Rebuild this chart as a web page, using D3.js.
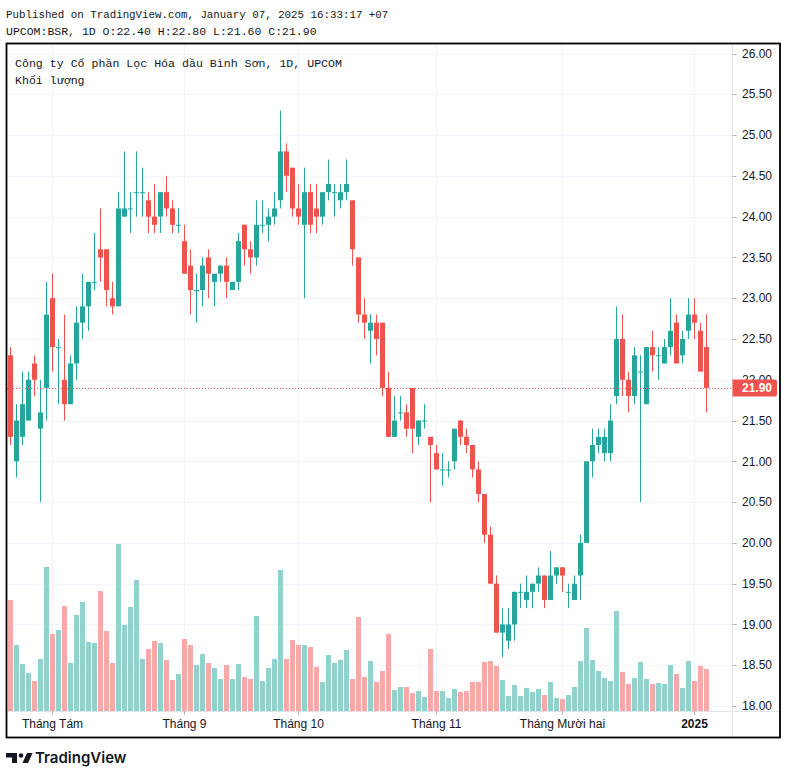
<!DOCTYPE html>
<html><head><meta charset="utf-8">
<script src="https://cdn.jsdelivr.net/npm/d3@7/dist/d3.min.js"></script>
<style>html,body{margin:0;padding:0;background:#fff;}svg{display:block;}</style>
</head><body>
<svg id="chart" width="789" height="776"></svg>
<script>
// ---------- DATA ----------
const openP  = [22.3,21.0,21.3,21.5,22.2,21.4,21.9,23.0,22.4,22.0,21.7,22.2,22.7,22.9,23.2,23.6,23.6,23.0,22.9,24.0,24.1,24.3,24.3,24.2,24.0,24.0,24.3,24.1,23.9,23.7,23.4,23.1,23.1,23.5,23.2,23.3,23.4,23.1,23.2,23.9,23.6,23.5,23.9,23.9,24.0,24.2,24.8,24.6,24.1,23.9,24.3,24.1,24.0,24.3,24.3,24.2,24.3,24.2,23.5,22.8,22.6,22.7,22.7,21.9,21.3,21.6,21.6,21.9,21.3,21.5,21.3,21.1,20.9,20.9,21.0,21.5,21.3,21.2,20.9,20.6,20.1,19.5,18.9,18.8,19.0,19.4,19.3,19.4,19.5,19.6,19.3,19.6,19.7,19.4,19.3,19.6,20.0,21.0,21.2,21.1,21.1,21.8,22.5,22.0,21.8,22.1,21.7,22.4,22.3,22.2,22.4,22.7,22.3,22.6,22.8,22.6,22.4];
const highP  = [22.4,21.7,22.1,22.1,22.3,22.0,23.2,23.3,22.5,22.8,22.3,22.9,23.3,23.2,23.8,24.1,23.6,23.2,24.3,24.8,24.3,24.8,24.6,24.3,24.4,24.3,24.5,24.2,24.1,23.9,23.6,23.3,23.5,23.6,23.3,23.4,23.5,23.2,23.8,23.9,23.7,24.2,24.2,24.1,24.3,25.3,24.9,24.6,24.4,24.6,24.4,24.4,24.3,24.7,24.4,24.4,24.7,24.2,23.5,23.0,22.8,22.8,22.7,22.1,21.8,21.8,21.7,21.9,21.5,21.7,21.3,21.2,21.1,21.0,21.4,21.5,21.4,21.2,21.0,20.6,20.2,19.6,19.2,19.2,19.4,19.5,19.6,19.5,19.7,19.6,19.9,19.7,19.7,19.5,19.6,20.1,21.0,21.4,21.4,21.4,21.7,22.9,22.8,22.1,22.4,22.3,22.4,22.6,22.4,22.5,23.0,22.8,22.6,23.0,23.0,22.7,22.8];
const lowP   = [21.2,20.8,21.2,21.5,21.8,20.5,21.5,22.1,21.7,21.5,21.7,22.0,22.5,22.6,23.1,23.2,22.9,22.8,22.9,24.0,23.8,24.0,24.0,23.8,23.8,23.8,24.0,23.8,23.8,23.3,22.8,22.7,22.9,23.0,22.9,23.2,23.0,23.1,23.1,23.4,23.3,23.4,23.8,23.7,23.9,24.1,24.3,24.0,23.9,23.0,23.8,23.8,23.9,24.2,24.0,24.1,24.2,23.4,22.7,22.5,22.2,22.3,21.8,21.3,21.3,21.5,21.3,21.1,21.2,21.4,20.5,20.9,20.7,20.8,20.9,21.2,21.1,20.8,20.5,20.0,19.5,18.9,18.6,18.7,18.8,19.2,19.2,19.2,19.4,19.2,19.3,19.5,19.4,19.2,19.3,19.3,20.0,20.8,21.1,21.0,21.0,21.7,21.8,21.6,21.7,20.5,21.7,22.1,22.0,22.2,22.3,22.2,22.2,22.5,22.5,22.1,21.6];
const closeP = [21.3,21.5,21.7,22.0,22.0,21.6,22.8,22.4,22.4,21.7,22.2,22.7,22.9,23.2,23.2,23.5,23.1,22.9,24.1,24.1,24.1,24.3,24.3,24.0,23.9,24.3,24.1,23.9,23.9,23.3,23.1,23.1,23.4,23.3,23.3,23.4,23.2,23.2,23.7,23.6,23.5,23.9,23.9,24.0,24.1,24.8,24.5,24.1,24.0,24.3,23.9,24.0,24.3,24.4,24.3,24.3,24.4,23.6,22.8,22.7,22.7,22.5,21.9,21.3,21.5,21.6,21.4,21.4,21.5,21.5,21.2,20.9,20.9,20.9,21.4,21.3,21.2,20.9,20.6,20.1,19.5,18.9,19.0,19.0,19.4,19.4,19.4,19.5,19.6,19.3,19.6,19.7,19.6,19.4,19.5,20.0,21.0,21.2,21.3,21.3,21.5,22.5,22.0,21.8,22.3,22.1,22.4,22.3,22.3,22.4,22.6,22.2,22.5,22.8,22.7,22.1,21.9];
// volume, millions of shares
const volume = [11.1,6.6,4.7,3.8,3.0,5.2,14.4,7.7,8.1,10.5,4.8,9.6,10.9,6.9,6.8,12.0,8.0,4.8,16.7,8.6,10.4,13.1,5.2,6.2,7.0,6.8,5.1,3.1,3.7,7.2,6.6,4.6,5.7,4.8,4.3,3.2,4.6,3.2,4.7,3.4,3.2,9.5,3.0,4.3,5.2,14.1,5.2,7.1,6.6,6.6,6.4,4.4,2.9,5.6,4.8,5.1,6.1,3.2,9.4,3.4,5.0,2.9,4.0,7.7,2.1,2.4,2.4,1.8,2.0,1.4,6.2,2.0,2.0,1.3,2.2,1.9,2.0,2.9,2.9,4.9,5.0,4.5,3.1,1.5,2.6,1.5,2.3,1.9,2.2,1.6,2.9,1.3,1.2,1.6,2.4,5.0,8.3,5.1,4.0,3.3,3.0,10.0,3.9,2.7,3.3,4.9,3.2,2.7,2.8,2.7,4.6,3.7,2.3,5.0,3.0,4.5,4.2];
const priceTicks = [18,18.5,19,19.5,20,20.5,21,21.5,22,22.5,23,23.5,24,24.5,25,25.5,26];
const monthLabels = ["Tháng Tám","Tháng 9","Tháng 10","Tháng 11","Tháng Mười hai","2025"];
const monthStartBar = [7,29,48,71,92,114];
const lastPrice = 21.90;

// ---------- LAYOUT ----------
const UP = "#26a69a", DOWN = "#ef5350";
const UPV = "#92d2cc", DOWNV = "#f7a9a7";
const GRID = "#f0f3fa", TXT = "#131722";
const MONO = "Liberation Mono, DejaVu Sans Mono, monospace";
const L = 7, R = 732.5, T = 44, B = 711;
const n = openP.length;
const svg = d3.select("#chart");

const x = d3.scaleLinear().domain([0, n - 1]).range([10.5, 10.5 + (n - 1) * 6]);
const y = d3.scaleLinear().domain([18, 26]).range([706, 53.5]);
const yv = d3.scaleLinear().domain([0, d3.max(volume)]).range([B, B - 167]);
const crisp = v => Math.round(v) + 0.5;

// header
svg.append("text").attr("x", 6).attr("y", 18).attr("font-family", MONO)
  .attr("font-size", 10.8).attr("fill", TXT).text("Published on TradingView.com, January 07, 2025 16:33:17 +07");
svg.append("text").attr("x", 6).attr("y", 35).attr("font-family", MONO)
  .attr("font-size", 11.5).attr("fill", TXT).text("UPCOM:BSR, 1D O:22.40 H:22.80 L:21.60 C:21.90");

const plot = svg.append("g");
plot.append("defs").append("clipPath").attr("id", "clip")
  .append("rect").attr("x", L).attr("y", T).attr("width", R - L).attr("height", B - T);

// horizontal grid
plot.append("g").selectAll("line").data(priceTicks).join("line")
  .attr("x1", L).attr("x2", R).attr("y1", d => crisp(y(d))).attr("y2", d => crisp(y(d)))
  .attr("stroke", GRID).attr("stroke-width", 1);
// vertical grid
plot.append("g").selectAll("line").data(monthStartBar).join("line")
  .attr("x1", d => x(d)).attr("x2", d => x(d)).attr("y1", T).attr("y2", B)
  .attr("stroke", GRID).attr("stroke-width", 1);

const data = d3.range(n).map(i => ({i, o: openP[i], h: highP[i], l: lowP[i], c: closeP[i], v: volume[i], up: closeP[i] >= openP[i]}));

const g = plot.append("g").attr("clip-path", "url(#clip)");
// volume
g.append("g").selectAll("rect").data(data).join("rect")
  .attr("x", d => x(d.i) - 2.5).attr("width", 5)
  .attr("y", d => yv(d.v)).attr("height", d => B - yv(d.v))
  .attr("fill", d => d.up ? UPV : DOWNV);
// wicks
g.append("g").selectAll("line").data(data).join("line")
  .attr("x1", d => x(d.i)).attr("x2", d => x(d.i))
  .attr("y1", d => y(d.h)).attr("y2", d => y(d.l))
  .attr("stroke", d => d.up ? UP : DOWN).attr("stroke-width", 1);
// bodies
g.append("g").selectAll("rect").data(data).join("rect")
  .attr("x", d => x(d.i) - 2.5).attr("width", 5)
  .attr("y", d => Math.min(y(d.o), y(d.c)))
  .attr("height", d => Math.max(1, Math.abs(y(d.o) - y(d.c))))
  .attr("fill", d => d.up ? UP : DOWN);

// last price dotted line
plot.append("line").attr("x1", L).attr("x2", R)
  .attr("y1", crisp(y(lastPrice))).attr("y2", crisp(y(lastPrice)))
  .attr("stroke", DOWN).attr("stroke-width", 1).attr("stroke-dasharray", "1,2");

// legend
svg.append("text").attr("x", 15).attr("y", 67).attr("font-family", MONO)
  .attr("font-size", 11.6).attr("fill", TXT).text("Công ty Cổ phần Lọc Hóa dầu Bình Sơn, 1D, UPCOM".normalize("NFC"));
svg.append("text").attr("x", 15).attr("y", 84).attr("font-family", MONO)
  .attr("font-size", 11.6).attr("fill", TXT).text("Khối lượng".normalize("NFC"));

// axes separators
svg.append("line").attr("x1", R).attr("x2", R).attr("y1", T).attr("y2", 737).attr("stroke", "#e0e3eb");
svg.append("line").attr("x1", L).attr("x2", 780).attr("y1", B + 0.5).attr("y2", B + 0.5).attr("stroke", "#e0e3eb");

// price axis
const pa = svg.append("g");
pa.selectAll("line").data(priceTicks).join("line")
  .attr("x1", R).attr("x2", R + 4).attr("y1", d => crisp(y(d))).attr("y2", d => crisp(y(d)))
  .attr("stroke", "#b2b5be");
pa.selectAll("text").data(priceTicks).join("text")
  .attr("x", 742).attr("y", d => y(d)).attr("dy", "0.35em")
  .attr("font-family", "Liberation Sans, Arial, sans-serif").attr("font-size", 12).attr("fill", TXT)
  .text(d => d.toFixed(2));

// last price label
const ly = y(lastPrice);
svg.append("path")
  .attr("d", `M${R},${ly - 8.5} H775 a2,2 0 0 1 2,2 V${ly + 6.5} a2,2 0 0 1 -2,2 H${R} Z`)
  .attr("fill", DOWN);
svg.append("text").attr("x", 742).attr("y", ly).attr("dy", "0.36em")
  .attr("font-family", "Liberation Sans, Arial, sans-serif").attr("font-size", 12)
  .attr("font-weight", "bold").attr("fill", "#fff").text(lastPrice.toFixed(2));

// time axis
const ta = svg.append("g");
ta.selectAll("line").data(monthStartBar).join("line")
  .attr("x1", d => x(d)).attr("x2", d => x(d)).attr("y1", B).attr("y2", B + 4).attr("stroke", "#b2b5be");
ta.selectAll("text").data(monthLabels).join("text")
  .attr("x", (d, k) => x(monthStartBar[k])).attr("y", 724).attr("dy", "0.35em")
  .attr("text-anchor", "middle")
  .attr("font-family", "Liberation Sans, Arial, sans-serif").attr("font-size", 12)
  .attr("font-weight", d => d === "2025" ? "bold" : "normal").attr("fill", TXT).text(d => d);

// frame
svg.append("rect").attr("x", 6.5).attr("y", 43.5).attr("width", 773.5).attr("height", 694)
  .attr("fill", "none").attr("stroke", "#000").attr("stroke-width", 1.8);

// TradingView logo
const logo = svg.append("g").attr("fill", TXT);
logo.append("path").attr("d", "M6,753 H17 V763 H12 V757.5 H6 Z");
logo.append("circle").attr("cx", 21).attr("cy", 755.5).attr("r", 2.3);
logo.append("path").attr("d", "M27,753 H32.5 L28,763 H22.5 Z");
svg.append("text").attr("x", 35).attr("y", 763).attr("font-family", "Inter, Liberation Sans, sans-serif")
  .attr("font-size", 15).attr("font-weight", 600).attr("fill", TXT).text("TradingView");
</script>
</body></html>
